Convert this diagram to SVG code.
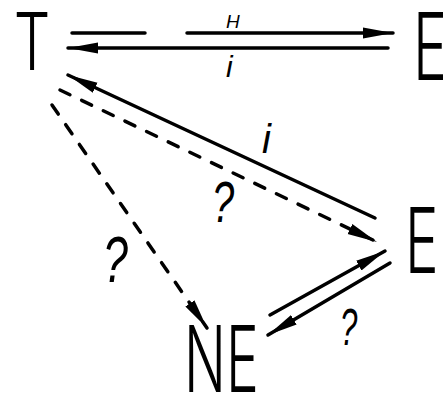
<svg xmlns="http://www.w3.org/2000/svg" width="443" height="396" viewBox="0 0 443 396">
<defs>
<style>
.node{font-family:Inter,"Liberation Sans",Arial,sans-serif;font-weight:300;fill:#000}
.lbl{font-family:"Liberation Sans",Arial,sans-serif;fill:#000;font-style:italic}
.s{stroke:#000;stroke-width:3.5;fill:none;stroke-linecap:round}
.d{stroke:#000;stroke-width:3.5;fill:none;stroke-linecap:round;stroke-dasharray:11 13}
</style>
<marker id="ah" markerUnits="userSpaceOnUse" markerWidth="34" markerHeight="14" refX="30" refY="7" orient="auto">
<path d="M0,1.5 L30,7 L0,12.5 Z" fill="#000"/>
</marker>
</defs>
<rect width="443" height="396" fill="#fff"/>
<g id="node-T"><text class="node" transform="translate(32,70) scale(0.72,1)" font-size="80" text-anchor="middle">T</text></g>
<g id="node-E-top"><text class="node" transform="translate(413,80) scale(0.62,1)" font-size="93">E</text></g>
<g id="node-E-mid"><text class="node" transform="translate(405,273) scale(0.62,1)" font-size="91">E</text></g>
<g id="node-NE"><text class="node" transform="translate(184,392) scale(0.6,1)" font-size="92">NE</text></g>
<g id="connectors">
<line class="s" x1="72" y1="33" x2="145" y2="33"/>
<line class="s" x1="187" y1="33" x2="393" y2="33" marker-end="url(#ah)"/>
<line class="s" x1="388" y1="48" x2="68" y2="48" marker-end="url(#ah)"/>
<line class="s" x1="375" y1="218" x2="68" y2="75" marker-end="url(#ah)"/>
<line class="d" x1="60" y1="90" x2="377" y2="242" marker-end="url(#ah)"/>
<line class="d" x1="52" y1="105" x2="207" y2="328" marker-end="url(#ah)"/>
<line class="s" x1="270" y1="315" x2="385" y2="251" marker-end="url(#ah)"/>
<line class="s" x1="390" y1="263" x2="268" y2="335" marker-end="url(#ah)"/>
</g>
<g id="labels">
<text class="lbl" x="226" y="28" font-size="19">H</text>
<text class="lbl" x="226" y="77" font-size="30">i</text>
<text class="lbl" x="262" y="153" font-size="40">i</text>
<text class="lbl" transform="translate(212,222) scale(0.7,1)" font-size="57">?</text>
<text class="lbl" transform="translate(103,282) scale(0.7,1)" font-size="64">?</text>
<text class="lbl" transform="translate(340,345) scale(0.6,1)" font-size="52">?</text>
</g>
</svg>
